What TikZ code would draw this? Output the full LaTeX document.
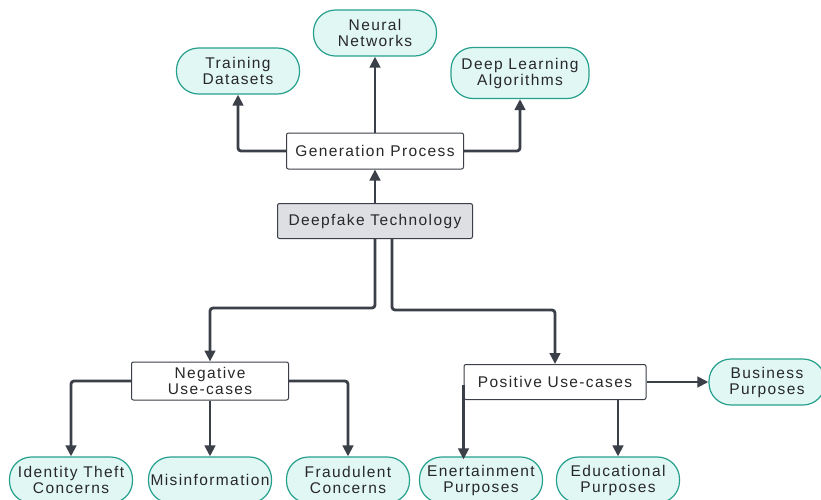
\documentclass[tikz,border=0pt]{standalone}
\usepackage{fontspec}
\setmainfont{Liberation Sans}[LetterSpace=9]
\usetikzlibrary{arrows.meta, positioning}
\definecolor{leafteal}{RGB}{38,160,140}
\definecolor{leaffill}{RGB}{224,247,244}
\definecolor{linedark}{RGB}{58,63,72}
\definecolor{boxgray}{RGB}{221,223,227}
\definecolor{textdark}{RGB}{40,40,40}
\tikzset{
    box/.style={rectangle, rounded corners=2pt, draw=linedark, fill=white, line width=1pt,
                text=textdark, align=center, inner sep=2pt, font=\fontsize{15.5}{16}\selectfont},
    core/.style={box, fill=boxgray},
    leaf/.style={rectangle, rounded corners=22pt, draw=leafteal, fill=leaffill, line width=1.2pt,
                 minimum width=123pt, minimum height=46pt, align=center, inner sep=1pt,
                 text=textdark, font=\fontsize{15.5}{16}\selectfont},
    arrow/.style={line width=2.8pt, linedark, rounded corners=3pt,
                  -{Triangle[length=11pt, width=10.5pt]}}
}
\begin{document}
\begin{tikzpicture}[x=1pt, y=-1pt]
    \useasboundingbox[fill=white] (0,0) rectangle (821,499);

    % Top: generation process
    \node[leaf] (neural) at (375,33) {Neural\\Networks};
    \node[leaf] (train) at (238,71) {Training\\Datasets};
    \node[leaf, minimum width=138pt, minimum height=51pt] (algo) at (520,73) {Deep Learning\\Algorithms};
    \node[box, minimum width=177pt, minimum height=36pt] (gen) at (375,151) {Generation Process};

    % Root
    \node[core, minimum width=195pt, minimum height=35pt] (tech) at (375,221) {Deepfake Technology};

    % Use-cases
    \node[box, minimum width=157pt, minimum height=38pt] (neg) at (210,381) {Negative\\Use-cases};
    \node[box, minimum width=182pt, minimum height=35pt] (pos) at (555,382) {Positive Use-cases};
    \node[leaf, minimum width=116pt] (business) at (767,382) {Business\\Purposes};

    % Bottom row
    \node[leaf] (identity) at (71,480) {Identity Theft\\Concerns};
    \node[leaf] (misinfo) at (210,480) {Misinformation};
    \node[leaf] (fraud) at (348,480) {Fraudulent\\Concerns};
    \node[leaf] (enter) at (481,480) {Enertainment\\Purposes};
    \node[leaf] (edu) at (618,480) {Educational\\Purposes};

    % Arrows
    \draw[arrow] (tech) -- (gen);
    \draw[arrow] (gen.west) -| (train.south);
    \draw[arrow] (gen) -- (neural);
    \draw[arrow] (gen.east) -| (algo.south);
    \draw[arrow] (tech.south) -- ++(0,69) -| (neg.north);
    \draw[arrow] ([xshift=17pt]tech.south) -- ++(0,71) -| (pos.north);
    \draw[arrow] (neg.west) -| (identity.north);
    \draw[arrow] (neg) -- (misinfo);
    \draw[arrow] (neg.east) -| (fraud.north);
    \draw[arrow] ([yshift=-3pt]pos.west) -- ([yshift=-3pt]pos.west |- enter.north);
    \draw[arrow] ([xshift=63pt]pos.south) -- ([xshift=63pt]pos.south |- edu.north);
    \draw[arrow] (pos) -- (business);
\end{tikzpicture}
\end{document}
